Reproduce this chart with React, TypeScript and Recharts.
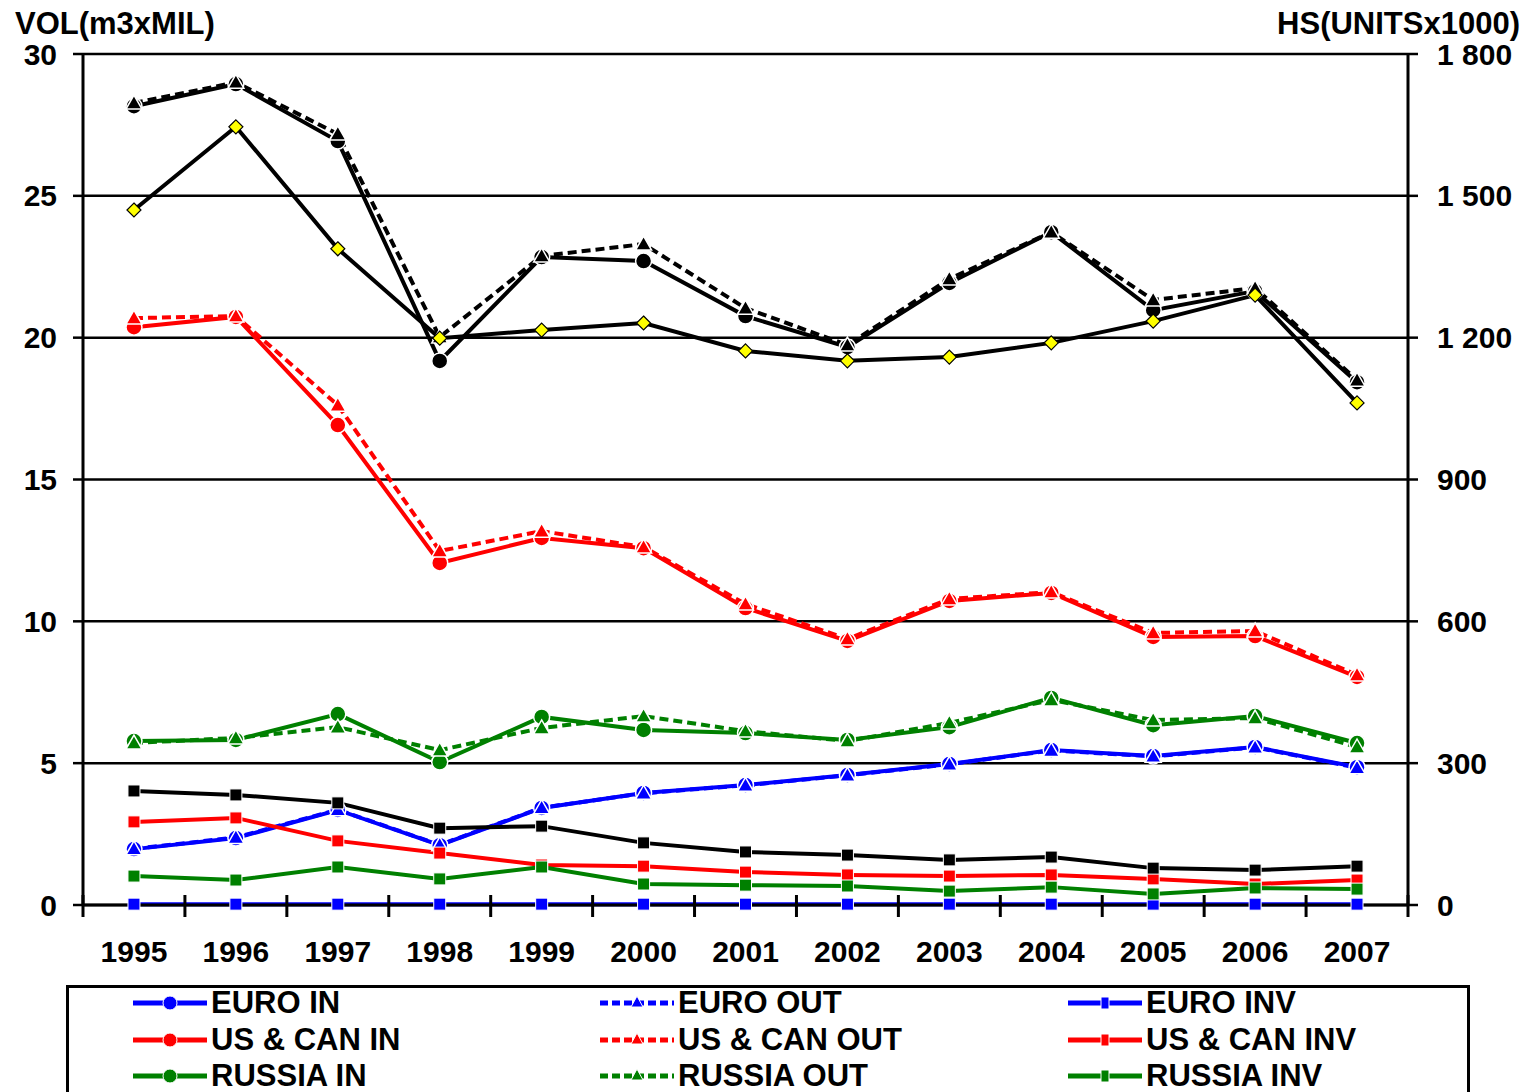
import React from 'react';
import { LineChart, Line, XAxis, YAxis, CartesianGrid, Legend } from 'recharts';

const YEARS = ['1995', '1996', '1997', '1998', '1999', '2000', '2001', '2002', '2003', '2004', '2005', '2006', '2007'];

const EURO_IN = [1.97, 2.36, 3.35, 2.11, 3.42, 3.95, 4.23, 4.58, 4.97, 5.46, 5.25, 5.57, 4.86];
const EURO_OUT = [1.98, 2.38, 3.36, 2.12, 3.43, 3.94, 4.22, 4.57, 4.96, 5.45, 5.24, 5.56, 4.84];
const EURO_INV = [0.03, 0.03, 0.03, 0.03, 0.03, 0.03, 0.03, 0.03, 0.03, 0.03, 0.03, 0.03, 0.03];

const USCAN_IN = [20.37, 20.73, 16.92, 12.06, 12.94, 12.58, 10.47, 9.31, 10.72, 11.0, 9.45, 9.48, 8.04];
const USCAN_OUT = [20.69, 20.76, 17.62, 12.48, 13.18, 12.62, 10.61, 9.38, 10.79, 11.03, 9.59, 9.66, 8.11];
const USCAN_INV = [2.93, 3.07, 2.26, 1.83, 1.41, 1.37, 1.16, 1.06, 1.02, 1.06, 0.92, 0.74, 0.88];

const RUSSIA_IN = [5.78, 5.82, 6.73, 5.04, 6.63, 6.17, 6.06, 5.82, 6.27, 7.3, 6.34, 6.66, 5.71];
const RUSSIA_OUT = [5.71, 5.89, 6.27, 5.46, 6.24, 6.66, 6.13, 5.78, 6.42, 7.23, 6.52, 6.59, 5.57];
const RUSSIA_INV = [1.02, 0.88, 1.34, 0.92, 1.34, 0.74, 0.7, 0.67, 0.49, 0.63, 0.39, 0.6, 0.56];

const TOTAL_IN = [28.16, 28.94, 26.93, 19.18, 22.84, 22.7, 20.76, 19.67, 21.93, 23.72, 20.97, 21.64, 18.43];
const TOTAL_OUT = [28.27, 29.0, 27.18, 20.02, 22.88, 23.3, 21.04, 19.74, 22.07, 23.72, 21.33, 21.75, 18.5];
const TOTAL_INV = [4.02, 3.88, 3.6, 2.71, 2.78, 2.19, 1.87, 1.76, 1.59, 1.69, 1.3, 1.23, 1.37];

const HOUSING_STARTS = [1470, 1646, 1388, 1199, 1216, 1231, 1172, 1151, 1159, 1189, 1235, 1290, 1062];

const VOL_TICKS = [0, 5, 10, 15, 20, 25, 30];
const HS_TICKS = [0, 300, 600, 900, 1200, 1500, 1800];

const BLUE = '#0000FF';
const RED = '#FF0000';
const GREEN = '#008000';
const BLACK = '#000000';
const YELLOW = '#FFFF00';
const FONT = '"Liberation Sans", Arial, Helvetica, sans-serif';

type Kind = 'in' | 'out' | 'inv' | 'hs';
interface SeriesDef { key: string; name: string; color: string; kind: Kind; values: number[]; legend: boolean; axis: string }

const SERIES: SeriesDef[] = [
  { key: 'euroIn', name: 'EURO IN', color: BLUE, kind: 'in', values: EURO_IN, legend: true, axis: 'vol' },
  { key: 'euroOut', name: 'EURO OUT', color: BLUE, kind: 'out', values: EURO_OUT, legend: true, axis: 'vol' },
  { key: 'euroInv', name: 'EURO INV', color: BLUE, kind: 'inv', values: EURO_INV, legend: true, axis: 'vol' },
  { key: 'usIn', name: 'US & CAN IN', color: RED, kind: 'in', values: USCAN_IN, legend: true, axis: 'vol' },
  { key: 'usOut', name: 'US & CAN OUT', color: RED, kind: 'out', values: USCAN_OUT, legend: true, axis: 'vol' },
  { key: 'usInv', name: 'US & CAN INV', color: RED, kind: 'inv', values: USCAN_INV, legend: true, axis: 'vol' },
  { key: 'ruIn', name: 'RUSSIA IN', color: GREEN, kind: 'in', values: RUSSIA_IN, legend: true, axis: 'vol' },
  { key: 'ruOut', name: 'RUSSIA OUT', color: GREEN, kind: 'out', values: RUSSIA_OUT, legend: true, axis: 'vol' },
  { key: 'ruInv', name: 'RUSSIA INV', color: GREEN, kind: 'inv', values: RUSSIA_INV, legend: true, axis: 'vol' },
  { key: 'totIn', name: 'TOTAL IN', color: BLACK, kind: 'in', values: TOTAL_IN, legend: false, axis: 'vol' },
  { key: 'totOut', name: 'TOTAL OUT', color: BLACK, kind: 'out', values: TOTAL_OUT, legend: false, axis: 'vol' },
  { key: 'totInv', name: 'TOTAL INV', color: BLACK, kind: 'inv', values: TOTAL_INV, legend: false, axis: 'vol' },
  { key: 'hs', name: 'HS', color: BLACK, kind: 'hs', values: HOUSING_STARTS, legend: false, axis: 'hs' },
];

const data = YEARS.map((year, i) => {
  const row: Record<string, string | number> = { year };
  SERIES.forEach((s) => { row[s.key] = s.values[i]; });
  return row;
});

const CHART_W = 1526;
const CHART_H = 1092;
const LEFT_W = 75;
const RIGHT_W = 126;
const PLOT_W = CHART_W - LEFT_W - RIGHT_W;
const STEP = PLOT_W / YEARS.length;

const makeDot = (s: SeriesDef) => (props: any) => {
  const { cx, cy, index } = props;
  const k = `${s.key}-${index}`;
  if (cx == null || cy == null) return <g key={k} />;
  if (s.kind === 'in') {
    return <circle key={k} cx={cx} cy={cy} r={8} fill={s.color} stroke="#ffffff" strokeWidth={1.5} />;
  }
  if (s.kind === 'out') {
    const h = 8;
    const pts = `${cx},${cy - h} ${cx + h},${cy + h * 0.75} ${cx - h},${cy + h * 0.75}`;
    return <polygon key={k} points={pts} fill={s.color} stroke="#ffffff" strokeWidth={1.5} />;
  }
  if (s.kind === 'inv') {
    return <rect key={k} x={cx - 6} y={cy - 6} width={12} height={12} fill={s.color} stroke="#ffffff" strokeWidth={1} />;
  }
  const d = 7;
  const pts = `${cx},${cy - d} ${cx + d},${cy} ${cx},${cy + d} ${cx - d},${cy}`;
  return <polygon key={k} points={pts} fill={YELLOW} stroke={BLACK} strokeWidth={1.2} />;
};

const XTick = (props: any) => {
  const { x, y, payload, index } = props;
  return (
    <g>
      {index === 0 && <line x1={x - STEP / 2} x2={x - STEP / 2} y1={y - 10} y2={y + 12} stroke={BLACK} strokeWidth={3} />}
      <line x1={x + STEP / 2} x2={x + STEP / 2} y1={y - 10} y2={y + 12} stroke={BLACK} strokeWidth={3} />
      <text x={x} y={y + 57} textAnchor="middle" fontFamily={FONT} fontWeight="bold" fontSize={30} fill={BLACK}>
        {payload.value}
      </text>
    </g>
  );
};

const LeftTitle = (props: any) => {
  const vb = props.viewBox || { x: 0, y: 0 };
  return (
    <text x={vb.x + 7} y={vb.y - 20} fontFamily={FONT} fontWeight="bold" fontSize={31} fill={BLACK}>
      VOL(m3xMIL)
    </text>
  );
};

const RightTitle = (props: any) => {
  const vb = props.viewBox || { x: 0, y: 0, width: 0 };
  return (
    <text x={vb.x + vb.width - 14} y={vb.y - 20} textAnchor="end" fontFamily={FONT} fontWeight="bold" fontSize={31} fill={BLACK}>
      HS(UNITSx1000)
    </text>
  );
};

const LegendIcon = ({ s }: { s: SeriesDef }) => {
  const mid = 37;
  return (
    <svg width={74} height={20} style={{ display: 'block' }}>
      <line x1={0} x2={74} y1={10} y2={10} stroke={s.color} strokeWidth={5} strokeDasharray={s.kind === 'out' ? '8 4' : undefined} />
      {s.kind === 'in' && <circle cx={mid} cy={10} r={7} fill={s.color} stroke="#ffffff" strokeWidth={1} />}
      {s.kind === 'out' && <polygon points={`${mid},3 ${mid + 6},14 ${mid - 6},14`} fill={s.color} stroke="#ffffff" strokeWidth={1} />}
      {s.kind === 'inv' && <rect x={mid - 4} y={4} width={8} height={12} fill={s.color} stroke="#ffffff" strokeWidth={1} />}
    </svg>
  );
};

const LEGEND_COL_X = [67, 534, 1002];

const renderLegend = () => {
  const items = SERIES.filter((s) => s.legend);
  return (
    <div
      style={{
        position: 'relative',
        width: 1404,
        height: 107,
        boxSizing: 'border-box',
        borderTop: '3px solid #000',
        borderLeft: '3px solid #000',
        borderRight: '3px solid #000',
        background: '#fff',
      }}
    >
      {items.map((s, i) => {
        const col = i % 3;
        const row = Math.floor(i / 3);
        return (
          <div
            key={s.key}
            style={{
              position: 'absolute',
              left: LEGEND_COL_X[col] - 3,
              top: 15 + row * 36.5 - 18,
              height: 36,
              display: 'flex',
              alignItems: 'center',
              whiteSpace: 'nowrap',
            }}
          >
            <LegendIcon s={s} />
            <span style={{ marginLeft: 4, fontFamily: FONT, fontWeight: 'bold', fontSize: 31, color: '#000', lineHeight: '36px' }}>
              {s.name}
            </span>
          </div>
        );
      })}
    </div>
  );
};

export default function App() {
  return (
    <div style={{ width: CHART_W, height: CHART_H, marginTop: -8, background: '#fff' }}>
      <LineChart width={CHART_W} height={CHART_H} data={data} margin={{ top: 54, right: 0, bottom: 0, left: 0 }}>
        <CartesianGrid yAxisId="vol" horizontal vertical={false} stroke={BLACK} strokeWidth={2.5} />
        <XAxis
          dataKey="year"
          height={80}
          interval={0}
          padding={{ left: STEP / 2, right: STEP / 2 }}
          tickSize={0}
          tickMargin={0}
          tickLine={false}
          axisLine={{ stroke: BLACK, strokeWidth: 3 }}
          tick={<XTick />}
        />
        <YAxis
          yAxisId="vol"
          orientation="left"
          width={LEFT_W}
          domain={[0, 30]}
          ticks={VOL_TICKS}
          interval={0}
          tickSize={10}
          tickMargin={16}
          axisLine={{ stroke: BLACK, strokeWidth: 3 }}
          tickLine={{ stroke: BLACK, strokeWidth: 2.5 }}
          tick={{ fontFamily: FONT, fontWeight: 'bold', fontSize: 30, fill: BLACK }}
          label={<LeftTitle />}
        />
        <YAxis
          yAxisId="hs"
          orientation="right"
          width={RIGHT_W}
          domain={[0, 1800]}
          ticks={HS_TICKS}
          interval={0}
          tickSize={10}
          tickMargin={19}
          tickFormatter={(v: number) => (v >= 1000 ? `${Math.floor(v / 1000)} ${String(v % 1000).padStart(3, '0')}` : String(v))}
          axisLine={{ stroke: BLACK, strokeWidth: 3 }}
          tickLine={{ stroke: BLACK, strokeWidth: 2.5 }}
          tick={{ fontFamily: FONT, fontWeight: 'bold', fontSize: 30, fill: BLACK }}
          label={<RightTitle />}
        />
        <Legend verticalAlign="bottom" content={renderLegend} wrapperStyle={{ left: 58, width: 1404, bottom: 0 }} />
        {SERIES.map((s) => (
          <Line
            key={s.key}
            yAxisId={s.axis}
            dataKey={s.key}
            name={s.name}
            type="linear"
            stroke={s.color}
            strokeWidth={4}
            strokeDasharray={s.kind === 'out' ? '9 5' : undefined}
            dot={makeDot(s)}
            activeDot={false}
            isAnimationActive={false}
            legendType={s.legend ? 'line' : 'none'}
          />
        ))}
      </LineChart>
    </div>
  );
}
